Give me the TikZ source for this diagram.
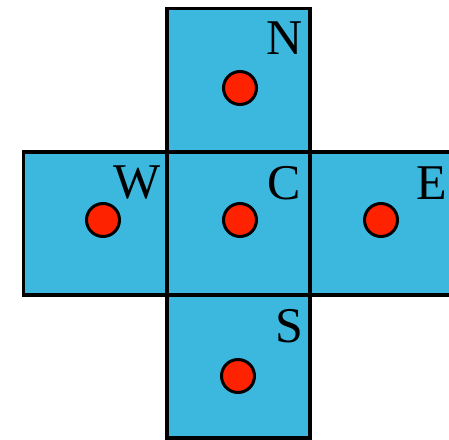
\documentclass[tikz,border=0pt]{standalone}
\usepackage{fontspec}
\setmainfont{Liberation Serif}
\definecolor{cellblue}{RGB}{60,184,222}
\definecolor{dotred}{RGB}{255,34,0}
\begin{document}
\begin{tikzpicture}[x=1pt,y=-1pt,
  cell/.style={draw=black,line width=3.2pt,fill=cellblue,minimum width=143pt,minimum height=143pt,inner sep=0pt,outer sep=0pt},
  dot/.style={circle,draw=black,line width=3pt,fill=dotred,minimum size=33pt,inner sep=0pt},
  lab/.style={font=\fontsize{50}{50}\selectfont,inner sep=0pt}]
\useasboundingbox (0,0) rectangle (449,439);
\clip (0,0) rectangle (449,439);
\node[cell] (N) at (238.5,80) {};
\node[cell] (W) at (95,223.5) {};
\node[cell] (E) at (381.5,223.5) {};
\node[cell] (S) at (238.5,366.5) {};
\node[cell] (C) at (238.5,223.5) {};
\node[dot] (dN) at (240,88) {};
\node[dot] (dC) at (240,220) {};
\node[dot] (dW) at (103,220) {};
\node[dot] (dE) at (381,220) {};
\node[dot] (dS) at (238,376) {};
\node[lab] (lN) at (285,38) {N};
\node[lab] (lW) at (137,183) {W};
\node[lab] (lC) at (284,183) {C};
\node[lab] (lE) at (432,183) {E};
\node[lab] (lS) at (289,326) {S};
\end{tikzpicture}
\end{document}
